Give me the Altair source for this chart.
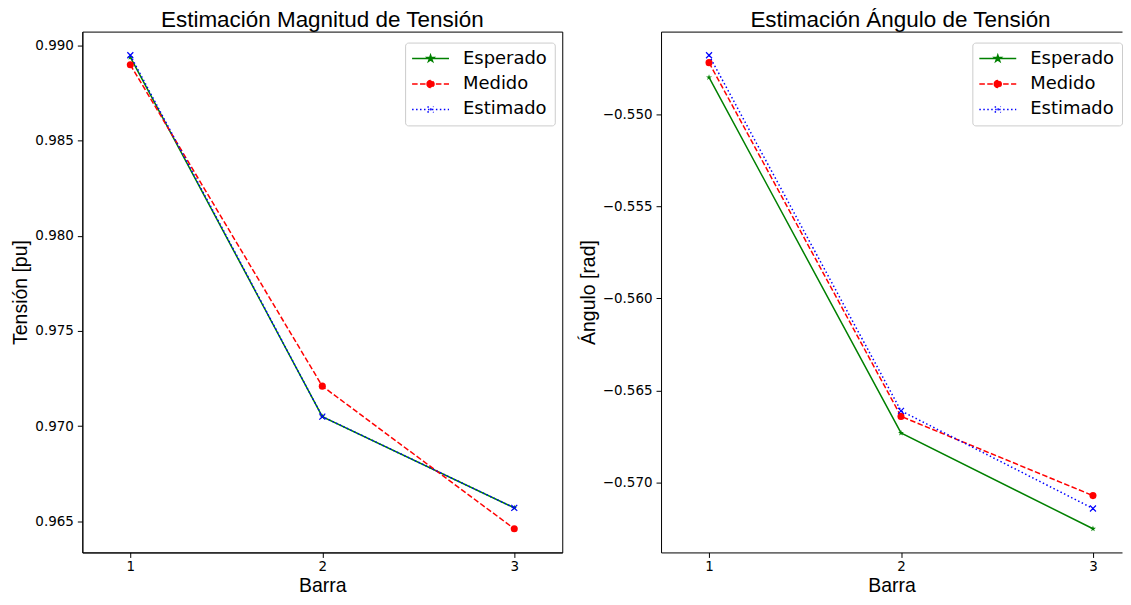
import math
import altair as alt
import pandas as pd

# ---------------- data ----------------
barras = [1, 2, 3]
series = ["Esperado", "Medido", "Estimado"]
colores = ["#008000", "#ff0000", "#0000ff"]

mag_esperado = [0.9894, 0.9705, 0.9657]
mag_medido = [0.9890, 0.9721, 0.9646]
mag_estimado = [0.9895, 0.9705, 0.9657]

ang_esperado = [-0.5480, -0.5673, -0.5725]
ang_medido = [-0.5472, -0.5664, -0.5707]
ang_estimado = [-0.5468, -0.5661, -0.5714]

mag_ticks = [0.965, 0.970, 0.975, 0.980, 0.985, 0.990]
ang_ticks = [-0.570, -0.565, -0.560, -0.555, -0.550]


def long_df(esp, med, est):
    rows = []
    for s, vals in zip(series, [esp, med, est]):
        for b, v in zip(barras, vals):
            rows.append({"barra": b, "valor": v, "serie": s})
    return pd.DataFrame(rows)


df_mag = long_df(mag_esperado, mag_medido, mag_estimado)
df_ang = long_df(ang_esperado, ang_medido, ang_estimado)


# ---------------- marker shapes ----------------
def star(cx, cy, r):
    pts = []
    for i in range(10):
        a = math.radians(-90 + 36 * i)
        rr = r if i % 2 == 0 else r * 0.382
        pts.append(f"{cx + rr * math.cos(a):.3f},{cy + rr * math.sin(a):.3f}")
    return "M" + "L".join(pts) + "Z"


def circle(cx, r):
    return f"M{cx - r:.3f},0A{r},{r},0,1,1,{cx + r:.3f},0A{r},{r},0,1,1,{cx - r:.3f},0Z"


def xmark(cx, r):
    return f"M{cx - r:.3f},{-r}L{cx + r:.3f},{r}M{cx - r:.3f},{r}L{cx + r:.3f},{-r}"


STAR = star(0, 0, 1)
XMARK = xmark(0, 1)

# legend symbols: line segment + marker (units of 5px with symbolSize 100)
LINE = "M-1.8,0H5.6"
leg_esp = LINE + star(1.9, 0, 0.7)
leg_med = LINE + circle(1.9, 0.7)
leg_est = LINE + xmark(1.9, 0.6)

shape_expr = (f"datum.value == 'Esperado' ? '{leg_esp}' : "
              f"datum.value == 'Medido' ? '{leg_med}' : '{leg_est}'")
dash_expr = ("datum.value == 'Medido' ? [5.55, 2.4] : "
             "datum.value == 'Estimado' ? [1.5, 2.475] : [1, 0]")
fill_expr = (f"datum.value == 'Esperado' ? '{colores[0]}' : "
             f"datum.value == 'Medido' ? '{colores[1]}' : '{colores[2]}'")

cscale = alt.Scale(domain=series, range=colores)


def make_legend(lx, ly):
    return alt.Legend(
        title=None, orient="none", legendX=lx, legendY=ly,
        fillColor="white", strokeColor="#cccccc", cornerRadius=3,
        padding=7, rowPadding=7.5, labelOffset=33,
        labelFont="DejaVu Sans", labelFontSize=18, labelColor="black",
        symbolSize=100, symbolStrokeWidth=1.5, symbolOpacity=1,
        symbolType=alt.ExprRef(shape_expr),
        symbolDash=alt.ExprRef(dash_expr),
        symbolFillColor=alt.ExprRef(fill_expr),
        symbolStrokeColor=alt.ExprRef(fill_expr),
    )


PLOT_H = 522


def panel(df, title, ytitle, yticks, lx, ly, width, xmax, framed, tdx):
    lo, hi = df["valor"].min(), df["valor"].max()
    m = 0.05 * (hi - lo)
    xscale = alt.Scale(domain=[0.75, xmax], nice=False, zero=False)
    x_bottom = alt.X("barra:Q", scale=xscale,
                     axis=alt.Axis(values=barras, format="d", title="Barra",
                                   labelPadding=2, titlePadding=3.5))
    x_top = alt.X("barra:Q", scale=xscale,
                  axis=alt.Axis(orient="top", labels=False, ticks=False,
                                title=None, domain=True))
    x_none = alt.X("barra:Q", scale=xscale, axis=None)
    yenc = alt.Y("valor:Q",
                 scale=alt.Scale(domain=[lo - m, hi + m], nice=False, zero=False),
                 axis=alt.Axis(values=yticks, format=".3f", title=ytitle,
                               labelPadding=4, titlePadding=4))
    base = alt.Chart(df)
    layers = []
    dashes = {"Esperado": None, "Medido": [5.55, 2.4], "Estimado": [1.5, 2.475]}
    for s in series:
        sub = base.transform_filter(alt.datum.serie == s)
        lkw = dict(strokeWidth=1.5)
        if dashes[s] is not None:
            lkw["strokeDash"] = dashes[s]
        if s == "Esperado":
            col = alt.Color("serie:N", scale=cscale, legend=make_legend(lx, ly))
            xl = x_bottom
        else:
            col = alt.Color("serie:N", scale=cscale, legend=None)
            xl = x_none
        layers.append(sub.mark_line(**lkw).encode(x=xl, y=yenc, color=col))
        colp = alt.Color("serie:N", scale=cscale, legend=None)
        if s == "Esperado":
            pts = sub.mark_point(shape=STAR, size=40, filled=True, opacity=1)
            xp = x_none
        elif s == "Medido":
            pts = sub.mark_point(shape="circle", size=50, filled=True, opacity=1)
            xp = x_none
        else:
            pts = sub.mark_point(shape=XMARK, size=36, filled=False,
                                 strokeWidth=1.2, opacity=1)
            xp = x_none if framed else x_top
        layers.append(pts.encode(x=xp, y=yenc, color=colp))
    props = dict(
        width=width, height=PLOT_H,
        title=alt.TitleParams(title, font="Liberation Sans", fontSize=22.5,
                              fontWeight="normal", color="black",
                              anchor="middle", frame="group", offset=0,
                              dx=tdx),
    )
    if not framed:
        props["view"] = alt.ViewBackground(stroke="transparent")
    return alt.layer(*layers).resolve_axis(x="independent").properties(**props)


left = panel(df_mag, "Estimación Magnitud de Tensión", "Tensión [pu]",
             mag_ticks, 323.5, 11, 481, 3.25, True, 0)
right = panel(df_ang, "Estimación Ángulo de Tensión", "Ángulo [rad]",
              ang_ticks, 312, 11, 462, 0.75 + 462 / 192.4, False, 9)

chart = (
    alt.hconcat(left, right, spacing=14)
    .resolve_scale(color="independent")
    .resolve_legend(color="independent")
    .properties(padding={"left": 1.5, "top": 0, "right": 0, "bottom": 0},
                background="white")
    .configure_view(stroke="black", strokeWidth=1)
    .configure_axis(
        grid=False, domainColor="black", tickColor="black", tickSize=5,
        labelFont="DejaVu Sans", labelFontSize=13.5, labelColor="black",
        titleFont="Liberation Sans", titleFontSize=19.5,
        titleFontWeight="normal", titleColor="black",
    )
)

chart.save("out.html", embed_options={"renderer": "svg", "actions": False})
